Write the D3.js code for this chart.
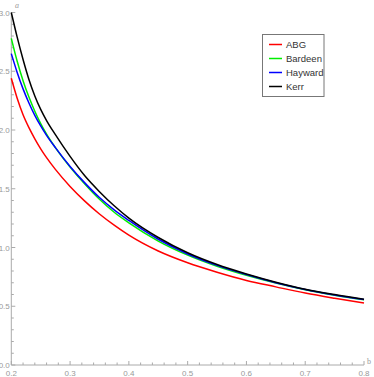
<!DOCTYPE html>
<html><head><meta charset="utf-8">
<script src="https://cdn.jsdelivr.net/npm/d3@7"></script>
<style>body{margin:0;background:#fff}svg{display:block}</style>
</head><body>
<svg id="c" width="374" height="377"></svg>
<script>
const bValues = [0.2,0.21,0.22,0.23,0.24,0.25,0.26,0.275,0.3,0.325,0.35,0.375,0.4,0.45,0.5,0.55,0.6,0.65,0.7,0.75,0.8];
const abg     = [2.44,2.27,2.13,2.02,1.925,1.84,1.765,1.665,1.52,1.395,1.285,1.19,1.105,0.97,0.87,0.79,0.72,0.665,0.612,0.568,0.528];
const bardeen = [2.78,2.585,2.42,2.28,2.16,2.055,1.965,1.85,1.685,1.54,1.41,1.30,1.21,1.055,0.935,0.84,0.763,0.697,0.64,0.594,0.555];
const hayward = [2.65,2.49,2.35,2.23,2.125,2.035,1.955,1.85,1.69,1.55,1.425,1.32,1.23,1.07,0.945,0.848,0.77,0.70,0.642,0.596,0.557];
const kerr    = [3.00,2.79,2.60,2.43,2.29,2.175,2.08,1.96,1.775,1.61,1.475,1.355,1.25,1.085,0.955,0.855,0.775,0.705,0.645,0.60,0.56];
const seriesNames = ["ABG","Bardeen","Hayward","Kerr"];
const seriesColors = ["#ff0000","#00ee00","#0000ff","#000000"];
const xTicks = [0.2,0.3,0.4,0.5,0.6,0.7,0.8];
const yTicks = [0.0,0.5,1.0,1.5,2.0,2.5,3.0];

const svg = d3.select("#c");
const x = d3.scaleLinear().domain([0.2,0.8]).range([11.3,364]);
const y = d3.scaleLinear().domain([0,3]).range([365,12.5]);
const axisColor = "#aaa", labColor = "#999";

const xMinor = d3.range(0.2,0.8001,0.02).filter(v=>!xTicks.some(t=>Math.abs(t-v)<1e-6));
const yMinor = d3.range(0,3.0001,0.1).filter(v=>!yTicks.some(t=>Math.abs(t-v)<1e-6));

// x axis
const gx = svg.append("g").attr("transform","translate(0,365)");
gx.append("line").attr("x1",x(0.2)).attr("x2",x(0.8)).attr("stroke",axisColor);
gx.selectAll(".mj").data(xTicks).join("line").attr("x1",d=>x(d)).attr("x2",d=>x(d)).attr("y1",0).attr("y2",-4).attr("stroke",axisColor);
gx.selectAll(".mn").data(xMinor).join("line").attr("class","mn").attr("x1",d=>x(d)).attr("x2",d=>x(d)).attr("y1",0).attr("y2",-2.5).attr("stroke",axisColor);
gx.selectAll("text").data(xTicks).join("text").attr("x",d=>x(d)).attr("y",10.5).attr("text-anchor","middle")
  .attr("font-family","Liberation Sans, Arial, sans-serif").attr("font-size",8).attr("fill",labColor).text(d=>d3.format(".1f")(d));
// y axis
const gy = svg.append("g").attr("transform","translate(11.3,0)");
gy.append("line").attr("y1",y(0)).attr("y2",y(3)).attr("stroke",axisColor);
gy.selectAll(".mj").data(yTicks).join("line").attr("y1",d=>y(d)).attr("y2",d=>y(d)).attr("x1",0).attr("x2",4).attr("stroke",axisColor);
gy.selectAll(".mn").data(yMinor).join("line").attr("class","mn").attr("y1",d=>y(d)).attr("y2",d=>y(d)).attr("x1",0).attr("x2",2.5).attr("stroke",axisColor);
gy.selectAll("text").data(yTicks).join("text").attr("x",-1.5).attr("y",d=>y(d)+3).attr("text-anchor","end")
  .attr("font-family","Liberation Sans, Arial, sans-serif").attr("font-size",8).attr("fill",labColor).text(d=>d3.format(".1f")(d));
svg.append("text").attr("x",15).attr("y",8).attr("font-family","Liberation Serif, serif").attr("font-style","italic").attr("font-size",8).attr("fill",labColor).text("a");
svg.append("text").attr("x",367).attr("y",364).attr("font-family","Liberation Serif, serif").attr("font-size",8).attr("fill",labColor).text("b");

// lines
const all = [abg,bardeen,hayward,kerr];
const line = d3.line().x((d,i)=>x(bValues[i])).y(d=>y(d)).curve(d3.curveMonotoneX);
all.forEach((s,k)=>{
  svg.append("path").attr("d",line(s)).attr("fill","none").attr("stroke",seriesColors[k]).attr("stroke-width",1.5);
});

// legend
const lg = svg.append("g");
lg.append("rect").attr("x",262.5).attr("y",34.5).attr("width",61.5).attr("height",62).attr("fill","#fff").attr("stroke","#777");
seriesNames.forEach((n,k)=>{
  const yy = 44.5 + k*14;
  lg.append("line").attr("x1",269).attr("x2",282).attr("y1",yy).attr("y2",yy).attr("stroke",seriesColors[k]).attr("stroke-width",1.5);
  lg.append("text").attr("x",286).attr("y",yy+3.5).attr("font-family","Liberation Sans, Arial, sans-serif").attr("font-size",9.5).attr("fill","#333").text(n);
});
</script>
</body></html>
